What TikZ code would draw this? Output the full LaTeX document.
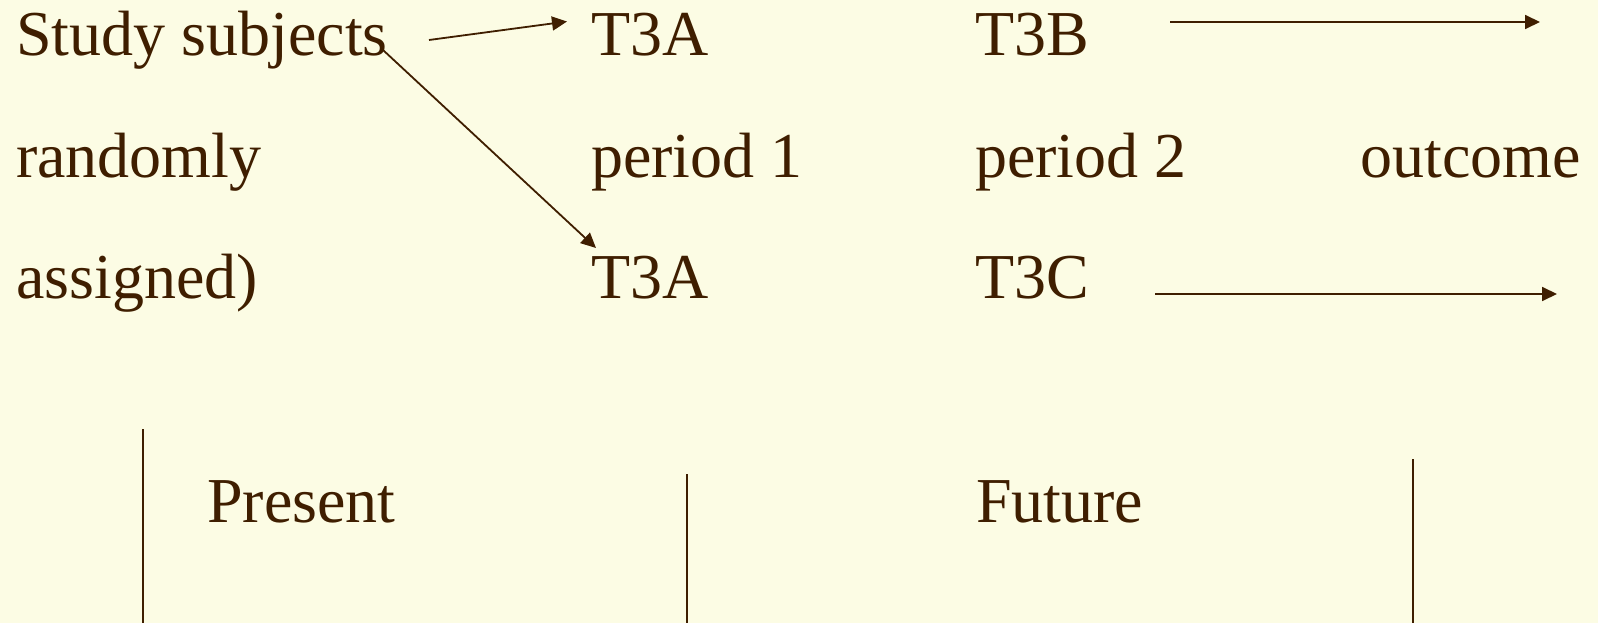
\documentclass[tikz,border=0pt]{standalone}
\usepackage{fontspec}
\setmainfont{Liberation Serif}
\usetikzlibrary{arrows.meta}
\definecolor{bgc}{HTML}{FCFCE4}
\definecolor{ink}{HTML}{3F1E00}
\begin{document}
\begin{tikzpicture}[x=1pt,y=-1pt,
  lbl/.style={anchor=base west,inner sep=0pt,text=ink,font=\fontsize{64}{64}\selectfont},
  conn/.style={draw=ink,line width=1.8pt,-{Triangle[length=15pt,width=14pt]}},
  bar/.style={draw=ink,line width=1.8pt}]
\fill[bgc] (0,0) rectangle (1598,623);
\useasboundingbox (0,0) rectangle (1598,623);
% row 1
\node[lbl] (ss) at (16,56) {Study subjects};
\node[lbl] (t3a1) at (591,56) {T3A};
\node[lbl] (t3b) at (975,56) {T3B};
% row 2
\node[lbl] (rand) at (16,178) {randomly};
\node[lbl] (p1) at (591,178) {period 1};
\node[lbl] (p2) at (975,178) {period 2};
\node[lbl] (out) at (1360,178) {outcome};
% row 3
\node[lbl] (asg) at (16,298) {assigned)};
\node[lbl] (t3a2) at (591,298) {T3A};
\node[lbl] (t3c) at (975,298) {T3C};
% bottom
\node[lbl] (pres) at (207,522) {Present};
\node[lbl] (fut) at (976,522) {Future};
% connector ends
\coordinate (a1s) at (429,40);
\coordinate (a1e) at (567,21.5);
\coordinate (a2s) at (383,50);
\coordinate (a2e) at (596,248);
\coordinate (a3s) at (1170,22);
\coordinate (a3e) at (1540,22);
\coordinate (a4s) at (1155,294);
\coordinate (a4e) at (1557,294);
\draw[conn] (a1s) -- (a1e);
\draw[conn] (a2s) -- (a2e);
\draw[conn] (a3s) -- (a3e);
\draw[conn] (a4s) -- (a4e);
% vertical bars
\coordinate (v1t) at (143,429);
\coordinate (v1b) at (143,623);
\coordinate (v2t) at (687,474);
\coordinate (v2b) at (687,623);
\coordinate (v3t) at (1413,459);
\coordinate (v3b) at (1413,623);
\draw[bar] (v1t) -- (v1b);
\draw[bar] (v2t) -- (v2b);
\draw[bar] (v3t) -- (v3b);
\end{tikzpicture}
\end{document}
